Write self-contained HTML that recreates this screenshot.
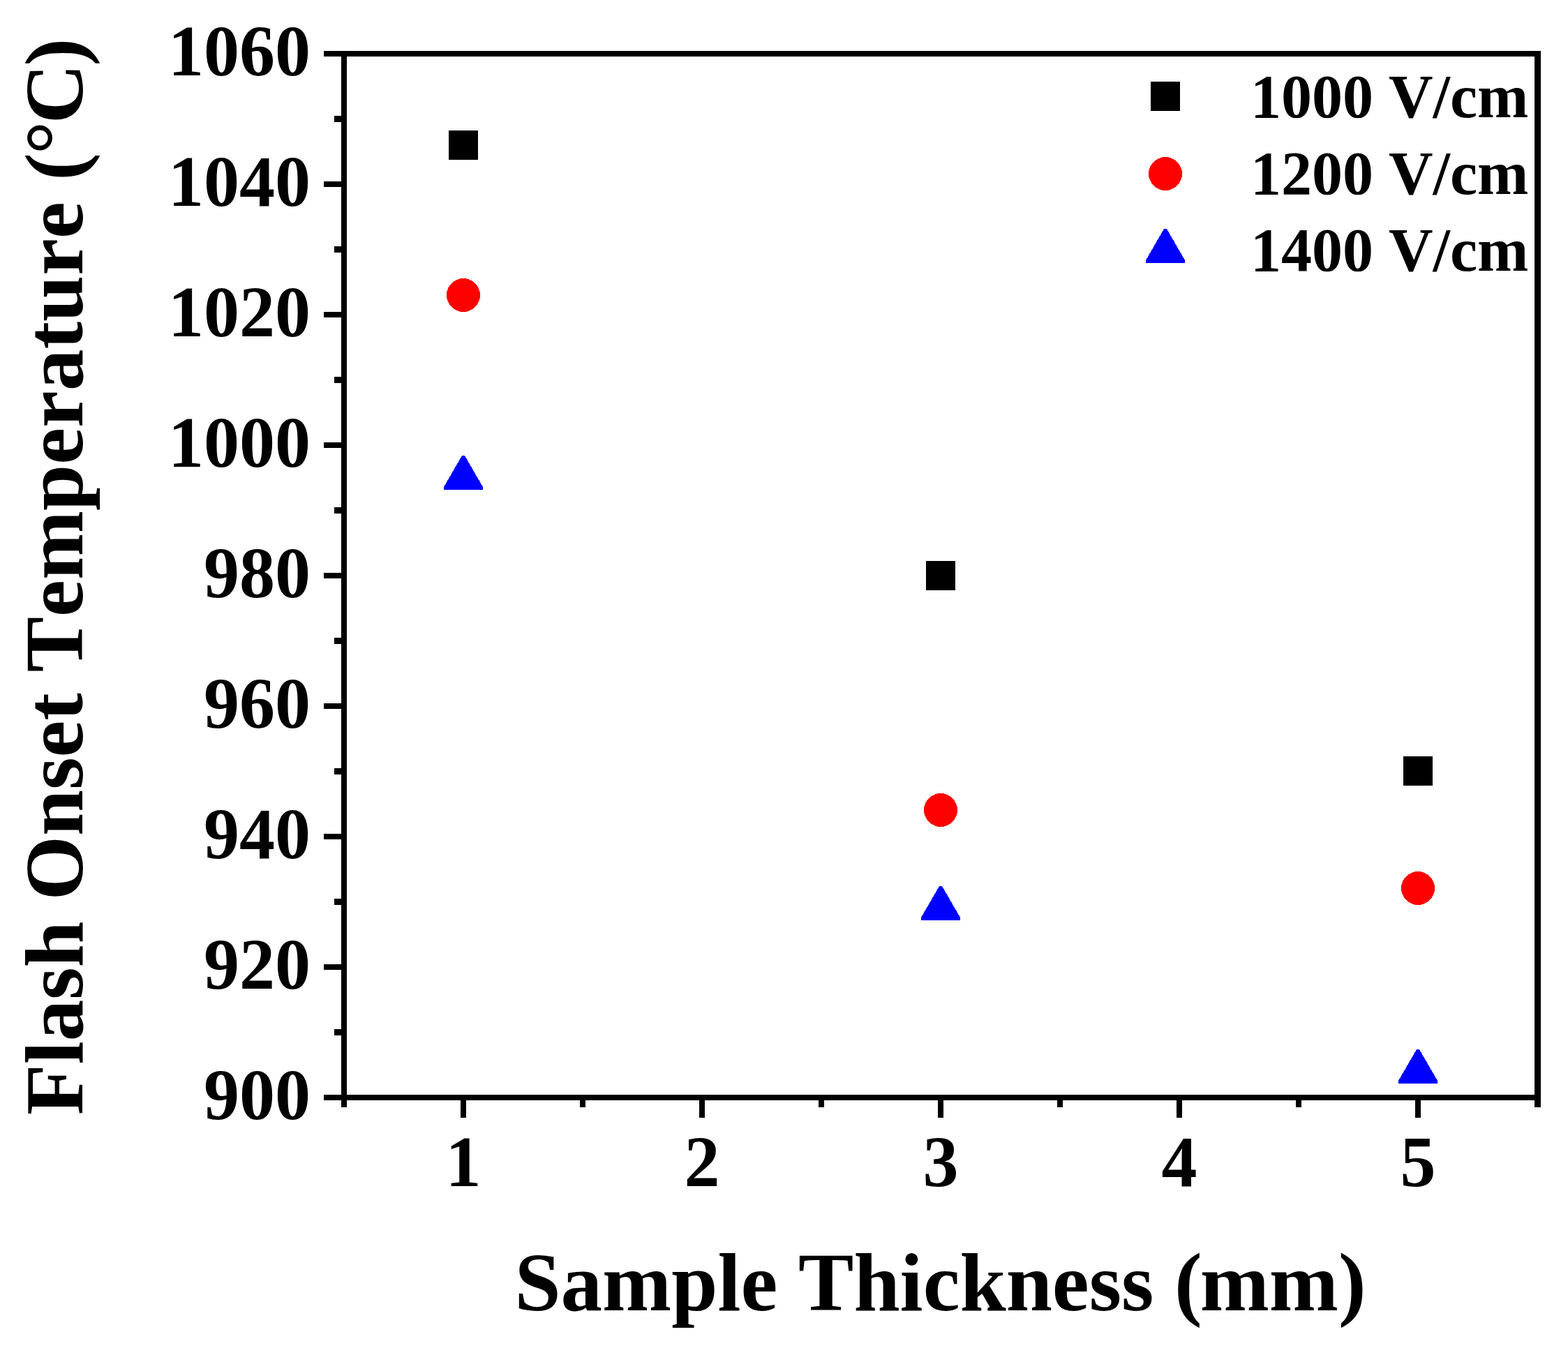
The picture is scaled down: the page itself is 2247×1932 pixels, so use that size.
<!DOCTYPE html>
<html lang="en"><head><meta charset="utf-8">
<title>Flash Onset Temperature vs Sample Thickness</title>
<style>
html,body{margin:0;padding:0;background:#fff;}
body{width:2247px;height:1932px;overflow:hidden;}
svg{display:block;}
text{font-family:"Liberation Serif","Times New Roman",Times,serif;font-weight:bold;fill:#000;font-kerning:none;}
.tick{font-size:102px;}
.leg{font-size:88px;}
.ttl{font-size:119px;}
</style></head><body>
<svg width="2247" height="1932" viewBox="0 0 2247 1932">
<rect x="0" y="0" width="2247" height="1932" fill="#fff"/>
<g fill="#000" shape-rendering="crispEdges">
<rect x="489" y="73" width="1719" height="8"/>
<rect x="489" y="1569" width="1719" height="8"/>
<rect x="489" y="73" width="8" height="1504"/>
<rect x="2199" y="73" width="9" height="1504"/>
<rect x="464" y="73" width="25" height="8"/>
<rect x="464" y="260" width="25" height="8"/>
<rect x="464" y="447" width="25" height="8"/>
<rect x="464" y="634" width="25" height="8"/>
<rect x="464" y="821" width="25" height="8"/>
<rect x="464" y="1008" width="25" height="8"/>
<rect x="464" y="1195" width="25" height="8"/>
<rect x="464" y="1382" width="25" height="8"/>
<rect x="464" y="1569" width="25" height="8"/>
<rect x="479" y="166" width="10" height="9"/>
<rect x="479" y="353" width="10" height="9"/>
<rect x="479" y="540" width="10" height="9"/>
<rect x="479" y="727" width="10" height="9"/>
<rect x="479" y="914" width="10" height="9"/>
<rect x="479" y="1101" width="10" height="9"/>
<rect x="479" y="1288" width="10" height="9"/>
<rect x="479" y="1475" width="10" height="9"/>
<rect x="660" y="1577" width="8" height="25"/>
<rect x="1002" y="1577" width="8" height="25"/>
<rect x="1344" y="1577" width="8" height="25"/>
<rect x="1686" y="1577" width="8" height="25"/>
<rect x="2028" y="1577" width="8" height="25"/>
<rect x="489" y="1577" width="8" height="10"/>
<rect x="831" y="1577" width="8" height="10"/>
<rect x="1173" y="1577" width="8" height="10"/>
<rect x="1515" y="1577" width="8" height="10"/>
<rect x="1857" y="1577" width="8" height="10"/>
<rect x="2199" y="1577" width="9" height="10"/>
</g>
<g shape-rendering="crispEdges">
<rect x="643" y="187" width="42" height="42" fill="#000"/>
<rect x="1327" y="804" width="42" height="42" fill="#000"/>
<rect x="2011" y="1084" width="42" height="42" fill="#000"/>
<circle cx="664" cy="423" r="24" fill="#f00"/>
<circle cx="1348" cy="1161" r="24" fill="#f00"/>
<circle cx="2032" cy="1273" r="24" fill="#f00"/>
<polygon points="662,653 666,653 692,698 692,702 636,702 636,698" fill="#00f"/>
<polygon points="1346,1270 1350,1270 1376,1315 1376,1319 1320,1319 1320,1315" fill="#00f"/>
<polygon points="2030,1504 2034,1504 2060,1549 2060,1553 2004,1553 2004,1549" fill="#00f"/>
<rect x="1649" y="117" width="42" height="42" fill="#000"/>
<circle cx="1670" cy="249" r="24" fill="#f00"/>
<polygon points="1668,328 1672,328 1698,373 1698,377 1642,377 1642,373" fill="#00f"/>
</g>
<text class="tick" transform="translate(445 108.0) scale(1 1.022)" text-anchor="end">1060</text>
<text class="tick" transform="translate(445 295.0) scale(1 1.022)" text-anchor="end">1040</text>
<text class="tick" transform="translate(445 482.0) scale(1 1.022)" text-anchor="end">1020</text>
<text class="tick" transform="translate(445 669.0) scale(1 1.022)" text-anchor="end">1000</text>
<text class="tick" transform="translate(445 856.0) scale(1 1.022)" text-anchor="end">980</text>
<text class="tick" transform="translate(445 1043.0) scale(1 1.022)" text-anchor="end">960</text>
<text class="tick" transform="translate(445 1230.0) scale(1 1.022)" text-anchor="end">940</text>
<text class="tick" transform="translate(445 1417.0) scale(1 1.022)" text-anchor="end">920</text>
<text class="tick" transform="translate(445 1604.0) scale(1 1.022)" text-anchor="end">900</text>
<text class="tick" transform="translate(664 1699.8) scale(1 1.022)" text-anchor="middle">1</text>
<text class="tick" transform="translate(1006 1699.8) scale(1 1.022)" text-anchor="middle">2</text>
<text class="tick" transform="translate(1348 1699.8) scale(1 1.022)" text-anchor="middle">3</text>
<text class="tick" transform="translate(1690 1699.8) scale(1 1.022)" text-anchor="middle">4</text>
<text class="tick" transform="translate(2032 1699.8) scale(1 1.022)" text-anchor="middle">5</text>
<text class="leg" x="1792" y="167.6">1000 V/cm</text>
<text class="leg" x="1792" y="278.0">1200 V/cm</text>
<text class="leg" x="1792" y="387.5">1400 V/cm</text>
<text class="ttl" x="737.4" y="1877.5">Sample Thickness <tspan dx="0 -3 0 0">(mm)</tspan></text>
<text class="ttl" transform="translate(118 1598) rotate(-90)">Flash Onset Temperature <tspan dx="0.6 -2.1 -3.6 -3.1">(°C)</tspan></text>
</svg>
</body></html>
